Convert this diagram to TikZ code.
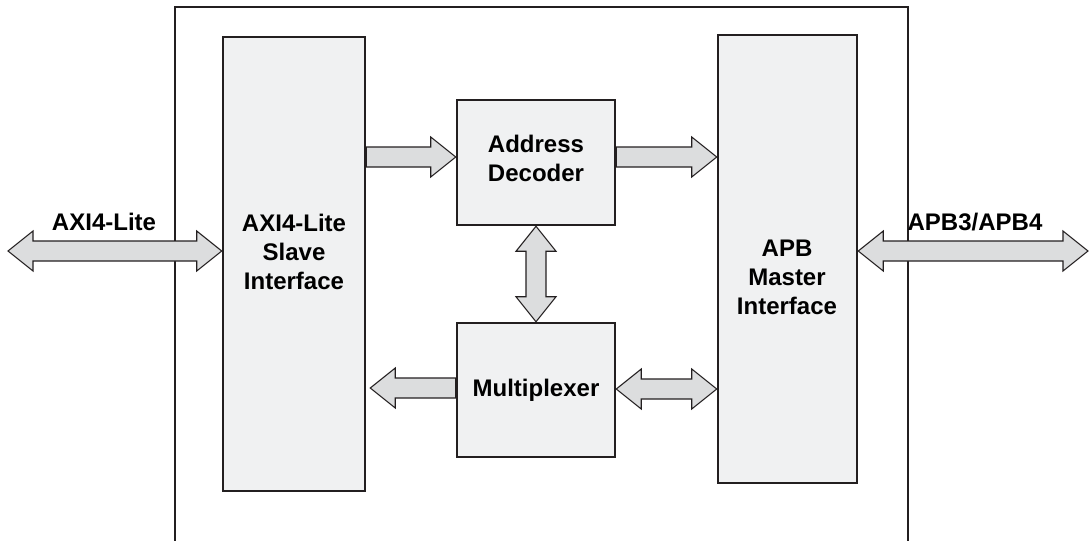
\documentclass[tikz,border=0pt]{standalone}
\usepackage{fontspec}
\setmainfont{Liberation Sans}
\usetikzlibrary{calc}

\definecolor{linecol}{HTML}{231F20}
\definecolor{blockfill}{HTML}{F0F1F2}
\definecolor{arrowfill}{HTML}{DCDDDE}

% outlined block arrows between two named coordinates
\newcommand{\sglarrow}[2]{%
  \coordinate (hb) at ($(#2)!18.75pt!(#1)$);
  \filldraw[barrow] ($(#1)!7.5pt!90:(#2)$) -- ($(hb)!7.5pt!90:(#2)$)
    -- ($(hb)!15pt!90:(#2)$) -- (#2) -- ($(hb)!15pt!-90:(#2)$)
    -- ($(hb)!7.5pt!-90:(#2)$) -- ($(#1)!7.5pt!-90:(#2)$) -- cycle;}
\newcommand{\dblarrow}[2]{%
  \coordinate (ha) at ($(#1)!18.75pt!(#2)$);
  \coordinate (hb) at ($(#2)!18.75pt!(#1)$);
  \filldraw[barrow] (#1) -- ($(ha)!15pt!90:(#2)$) -- ($(ha)!7.5pt!90:(#2)$)
    -- ($(hb)!7.5pt!90:(#2)$) -- ($(hb)!15pt!90:(#2)$) -- (#2)
    -- ($(hb)!15pt!-90:(#2)$) -- ($(hb)!7.5pt!-90:(#2)$)
    -- ($(ha)!7.5pt!-90:(#2)$) -- ($(ha)!15pt!-90:(#2)$) -- cycle;}

\begin{document}
\begin{tikzpicture}[x=0.75pt,y=-0.75pt,
    block/.style={draw=linecol,fill=blockfill,line width=1.9pt,inner sep=0pt},
    barrow/.style={draw=linecol,fill=arrowfill,line width=0.8pt,line join=miter},
    lbl/.style={font=\bfseries\fontsize{18}{21.75}\selectfont,align=center,inner sep=0pt}]
\useasboundingbox (0,0) rectangle (1089,540);

% bridge outline, open at the bottom
\draw[linecol,line width=1.9pt] (175,545) -- (175,7) -- (908,7) -- (908,545);

% blocks
\node[block,minimum width=106.5pt,minimum height=340.5pt] (slave) at (294,264) {};
\node[block,minimum width=118.5pt,minimum height=93.75pt] (dec) at (536,162.5) {};
\node[block,minimum width=118.5pt,minimum height=100.5pt] (mux) at (536,390) {};
\node[block,minimum width=104.25pt,minimum height=336pt] (apb) at (787.5,259) {};

\node[lbl] (slavetxt) at (294,252) {AXI4-Lite\\Slave\\Interface};
\node[lbl] (dectxt) at (536,158) {Address\\Decoder};
\node[lbl] (muxtxt) at (536,390) {Multiplexer};
\node[lbl] (apbtxt) at (787,277) {APB\\Master\\Interface};
\node[lbl] (axitxt) at (104,222) {AXI4-Lite};
\node[lbl] (apbbus) at (975,222) {APB3/APB4};

% connector end points
\coordinate (axi) at (8,251);
\coordinate (axiin) at (slave.west |- axi);
\coordinate (s2d) at (slave.east |- 0,157);
\coordinate (d2s) at (dec.west |- s2d);
\coordinate (d2a) at (dec.east |- s2d);
\coordinate (a2d) at (apb.west |- s2d);
\coordinate (m2s) at (mux.west |- 0,388);
\coordinate (s2m) at ($(slave.east |- m2s)+(4,0)$);
\coordinate (m2a) at (mux.east |- 0,389);
\coordinate (a2m) at (apb.west |- m2a);
\coordinate (apbout) at (apb.east |- 0,251);
\coordinate (bus) at (1088,251);

% connectors
\dblarrow{axi}{axiin}
\sglarrow{s2d}{d2s}
\sglarrow{d2a}{a2d}
\dblarrow{dec.south}{mux.north}
\sglarrow{m2s}{s2m}
\dblarrow{m2a}{a2m}
\dblarrow{apbout}{bus}
\end{tikzpicture}
\end{document}
